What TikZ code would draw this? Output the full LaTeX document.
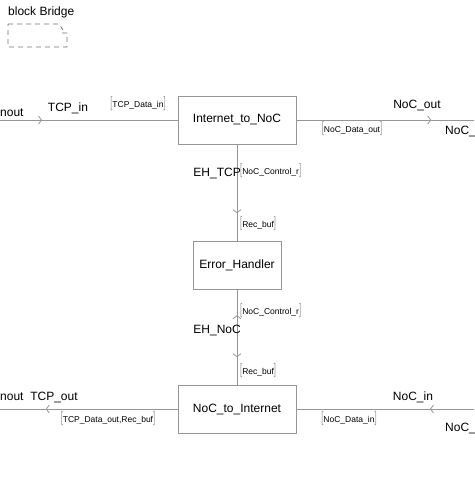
\documentclass[tikz,border=0pt]{standalone}
\usepackage{fontspec}
\setmainfont{Liberation Sans}
\usetikzlibrary{arrows.meta,decorations.markings}

\definecolor{wiregray}{RGB}{150,150,150}
\newcommand{\siglab}[1]{{\color{wiregray}\scalebox{0.9}[1.8]{[}}#1{\color{wiregray}\scalebox{0.9}[1.8]{]}}}

\tikzset{
  blk/.style={draw=wiregray, fill=white, minimum height=48pt, inner sep=0pt,
    font=\fontsize{12}{14}\selectfont},
  wire/.style={draw=wiregray, line width=0.8pt},
  chev/.style={postaction={decorate, decoration={markings,
    mark=at position #1 with {\arrow[wiregray]{Straight Barb[length=3pt,width=8pt]}}}}},
  chevback/.style={postaction={decorate, decoration={markings,
    mark=at position #1 with {\arrowreversed[wiregray]{Straight Barb[length=3pt,width=8pt]}}}}},
  lbl/.style={inner sep=0pt, font=\fontsize{12}{14}\selectfont},
  sig/.style={inner sep=0pt, font=\fontsize{8.5}{10}\selectfont},
}

\begin{document}
\begin{tikzpicture}[x=1pt, y=-1pt]
  \useasboundingbox (0,0) rectangle (474,482);
  \clip (0,0) rectangle (474,482);

  % block outline
  \node[lbl, anchor=west] (title) at (8,12) {block Bridge};
  \draw[black!55, line width=0.8pt, dash pattern=on 5pt off 4pt]
    (8,24) -- (59,24) -- (63,30) (62,33) -- (67,33) -- (67,47) -- (8,47) -- (8,24);

  % blocks
  \node[blk, minimum width=118pt] (i2n) at (237,120) {Internet\_to\_NoC};
  \node[blk, minimum width=88pt]  (eh)  at (237,265) {Error\_Handler};
  \node[blk, minimum width=118pt] (n2i) at (237,409) {NoC\_to\_Internet};

  % outer ports
  \coordinate (tcpin)  at (0,120);
  \coordinate (nocout) at (474,120);
  \coordinate (tcpout) at (0,409);
  \coordinate (nocin)  at (474,409);

  % wires
  \draw[wire, chev=42pt] (tcpin) -- (i2n.west);
  \draw[wire, chev=135pt] (i2n.east) -- (nocout);
  \draw[wire, chev=69pt] (i2n.south) -- (eh.north);
  \draw[wire, chevback=26pt, chev=68pt] (eh.south) -- (n2i.north);
  \draw[wire, chev=132pt] (n2i.west) -- (tcpout);
  \draw[wire, chev=44pt] (nocin) -- (n2i.east);

  % top row labels
  \node[lbl, anchor=west] (lin) at (0,113) {nout};
  \node[lbl] (tcpinlbl) at (68,108) {TCP\_in};
  \node[sig] (tcpdatain) at (138,104) {\siglab{TCP\_Data\_in}};
  \node[lbl] (nocoutlbl) at (417,106) {NoC\_out};
  \node[lbl, anchor=west] (rout) at (445,132) {NoC\_};
  \node[sig] (nocdataout) at (352,129) {\siglab{NoC\_Data\_out}};

  % middle labels
  \node[lbl, anchor=east] (ehtcp) at (241,174) {EH\_TCP};
  \node[sig, anchor=west] (ctrl1) at (240,171) {\siglab{NoC\_Control\_r}};
  \node[sig, anchor=west] (rec1) at (240,224) {\siglab{Rec\_buf}};
  \node[sig, anchor=west] (ctrl2) at (240,311) {\siglab{NoC\_Control\_r}};
  \node[lbl, anchor=east] (ehnoc) at (241,330) {EH\_NoC};
  \node[sig, anchor=west] (rec2) at (240,371) {\siglab{Rec\_buf}};

  % bottom row labels
  \node[lbl, anchor=west] (lout) at (0,397) {nout};
  \node[lbl] (tcpoutlbl) at (54,397) {TCP\_out};
  \node[sig] (tcpdataout) at (108,419) {\siglab{TCP\_Data\_out,Rec\_buf}};
  \node[lbl] (nocinlbl) at (413,397) {NoC\_in};
  \node[lbl, anchor=west] (rin) at (445,428) {NoC\_};
  \node[sig] (nocdatain) at (349,419) {\siglab{NoC\_Data\_in}};
\end{tikzpicture}
\end{document}
